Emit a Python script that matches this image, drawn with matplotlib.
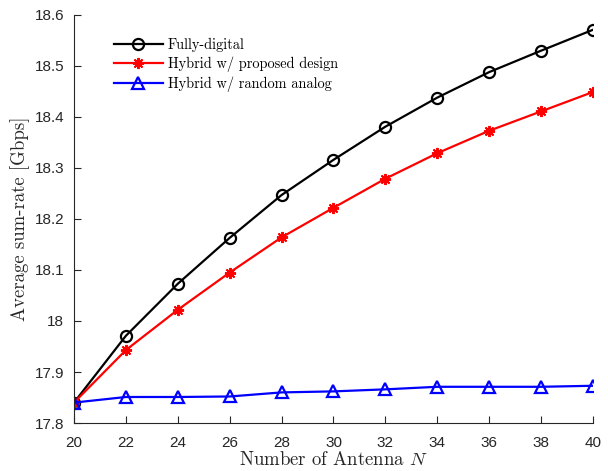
"""Average sum-rate vs number of antennas."""

import matplotlib
matplotlib.use("Agg")
import matplotlib.pyplot as plt

antennas = [20, 22, 24, 26, 28, 30, 32, 34, 36, 38, 40]
fully_digital = [17.840, 17.971, 18.073, 18.163, 18.247, 18.316, 18.381, 18.438, 18.488, 18.530, 18.571]
hybrid_proposed = [17.840, 17.943, 18.022, 18.095, 18.164, 18.222, 18.279, 18.329, 18.373, 18.411, 18.449]
hybrid_random = [17.840, 17.851, 17.851, 17.852, 17.860, 17.862, 17.866, 17.871, 17.871, 17.871, 17.873]

x_ticks = list(range(20, 41, 2))
y_ticks = [17.8, 17.9, 18.0, 18.1, 18.2, 18.3, 18.4, 18.5, 18.6]
y_tick_labels = ["17.8", "17.9", "18", "18.1", "18.2", "18.3", "18.4", "18.5", "18.6"]

plt.rcParams["mathtext.fontset"] = "cm"
serif = "cmr10"
sans = "Liberation Sans"

fig = plt.figure(figsize=(6.08, 4.71), dpi=100)
ax = fig.add_axes([0.1217, 0.1019, 0.8536, 0.8663])

ax.plot(antennas, fully_digital, color="black", lw=1.6, marker="o", ms=8,
        mfc="none", mew=1.6, label="Fully-digital")
ax.plot(antennas, hybrid_proposed, color="red", lw=1.6, marker=(8, 2, 0), ms=8,
        mew=1.4, label="Hybrid w/ proposed design")
ax.plot(antennas, hybrid_random, color="blue", lw=1.6, marker="^", ms=8,
        mfc="none", mew=1.6, label="Hybrid w/ random analog")

ax.set_xlim(20, 40)
ax.set_ylim(17.8, 18.6)
ax.set_xticks(x_ticks)
ax.set_yticks(y_ticks)
ax.set_yticklabels(y_tick_labels)

for side in ("top", "right"):
    ax.spines[side].set_visible(False)
for side in ("left", "bottom"):
    ax.spines[side].set_color("#262626")
    ax.spines[side].set_linewidth(0.8)
ax.tick_params(direction="in", length=5, width=0.8, color="#262626",
               labelsize=11, labelcolor="#262626")
ax.tick_params(axis="y", pad=7)
ax.tick_params(axis="x", pad=9)
for lbl in ax.get_xticklabels() + ax.get_yticklabels():
    lbl.set_family(sans)

ax.set_xlabel("Number of Antenna $N$", family=serif, fontsize=13.5, color="#262626", labelpad=1)
ax.set_ylabel("Average sum-rate [Gbps]", family=serif, fontsize=13.5, color="#262626", labelpad=3)

leg = ax.legend(loc="upper left", bbox_to_anchor=(0.066, 0.958), frameon=False,
                prop={"family": serif, "size": 10.3}, handlelength=3.4,
                handletextpad=0.35, labelspacing=0.3, borderaxespad=0)

fig.savefig("out.png", dpi=100)
